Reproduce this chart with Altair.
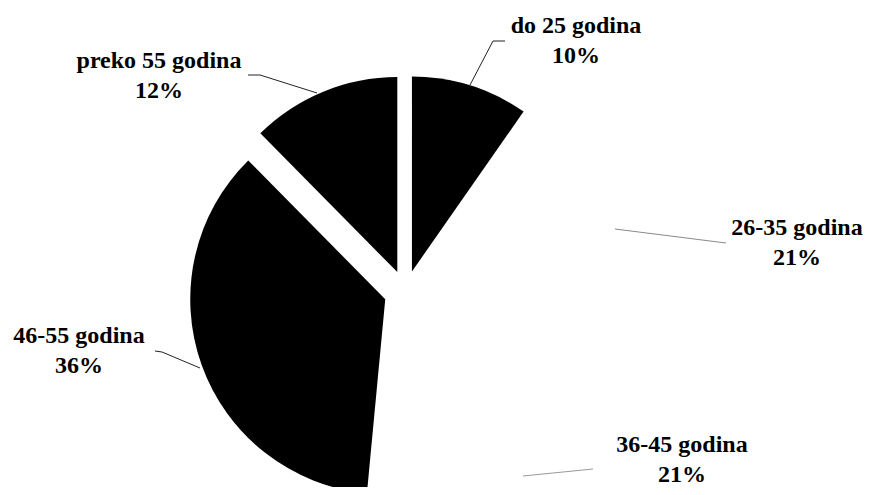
import math
import altair as alt
import pandas as pd

# ---- data ----
categories = ["do 25 godina", "26-35 godina", "36-45 godina", "46-55 godina", "preko 55 godina"]
shares = [9.7, 20.9, 20.9, 36.1, 12.4]
slice_colors = ["#000000", "#ffffff", "#ffffff", "#000000", "#000000"]

# ---- layout (pixels inside the plot area) ----
W, H = 856, 479
CX, CY = 397.5, 284.0
R = 195
EXPLODE = 21.5

label_pos = {
    "do 25 godina": (568, 25),
    "26-35 godina": (789, 227),
    "36-45 godina": (674, 444),
    "46-55 godina": (71, 335),
    "preko 55 godina": (151, 60),
}
leaders = {
    "do 25 godina": ([(497, 33), (485, 33), (462, 77)], "#222222"),
    "26-35 godina": ([(607, 221), (718, 235)], "#8a8a8a"),
    "36-45 godina": ([(515, 468), (585, 461)], "#9a9a9a"),
    "46-55 godina": ([(147, 343), (154, 344), (192, 360)], "#222222"),
    "preko 55 godina": ([(240, 67), (252, 67), (309, 85)], "#222222"),
}

total = sum(shares)
rows = []
cum = 0.0
for i, (c, v, col) in enumerate(zip(categories, shares, slice_colors)):
    mid = (cum + v / 2) / total * 2 * math.pi
    rows.append(dict(idx=i, cat=c, start=cum, end=cum + v, color=col,
                     cx=CX + EXPLODE * math.sin(mid), cy=CY - EXPLODE * math.cos(mid)))
    cum += v
pie_df = pd.DataFrame(rows)

lab_df = pd.DataFrame([
    dict(cat=c, x=label_pos[c][0], y=label_pos[c][1],
         label=f"{c}\n{round(v / total * 100)}%")
    for c, v in zip(categories, shares)
])

line_rows = []
for c in categories:
    pts, col = leaders[c]
    for j, (px, py) in enumerate(pts):
        line_rows.append(dict(cat=c, k=j, x=px, y=py, color=col))
line_df = pd.DataFrame(line_rows)

theta_scale = alt.Scale(domain=[0, total], range=[0, 2 * math.pi])

pie = alt.Chart(pie_df).mark_arc(outerRadius=R).encode(
    theta=alt.Theta("start:Q", scale=theta_scale),
    theta2="end:Q",
    x=alt.X("cx:Q", scale=None, stack=False),
    y=alt.Y("cy:Q", scale=None, stack=False),
    color=alt.Color("color:N", scale=None),
)

lines = alt.Chart(line_df).mark_line(strokeWidth=1).encode(
    x=alt.X("x:Q", scale=None),
    y=alt.Y("y:Q", scale=None),
    detail="cat:N",
    order="k:Q",
    color=alt.Color("color:N", scale=None),
)

text = alt.Chart(lab_df).mark_text(
    font="Liberation Serif, Times New Roman, serif", fontWeight="bold", fontSize=24,
    align="center", baseline="alphabetic", lineBreak="\n", lineHeight=30,
    color="#000000",
).encode(
    x=alt.X("x:Q", scale=None),
    y=alt.Y("y:Q", scale=None),
    text="label:N",
)

chart = alt.layer(pie, lines, text).properties(
    width=W, height=H, padding=0, autosize="none", background="#ffffff"
).configure_view(stroke=None)

chart.save("out.html", embed_options={"renderer": "svg", "actions": False})
